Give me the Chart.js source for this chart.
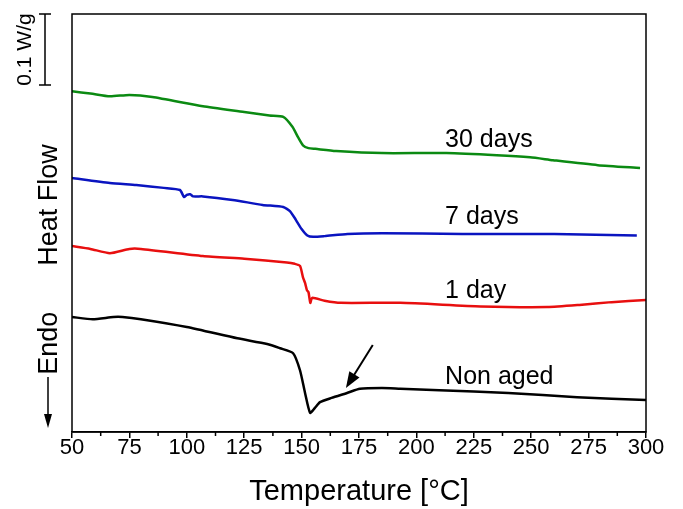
<!DOCTYPE html>
<html>
<head>
<meta charset="utf-8">
<script src="https://cdn.jsdelivr.net/npm/chart.js@4.4.0/dist/chart.umd.min.js"></script>
<style>
  html, body { margin: 0; padding: 0; background: #fff; }
  canvas { display: block; }
</style>
</head>
<body>
<canvas id="dsc" width="683" height="509"></canvas>
<script>
const FONT = '"Liberation Sans", Arial, sans-serif';

// temperature [°C] and heat flow [W/g], curves shifted vertically for clarity
const nonAgedT  = [50, 59, 68, 72, 80, 100, 122, 135, 140.6, 146.3, 149.3, 151.5, 153.7, 155.8, 158, 163, 169.8, 175.4, 185, 193, 210, 240, 270, 300];
const nonAgedHF = [0.162, 0.159, 0.162, 0.162, 0.159, 0.148, 0.132, 0.124, 0.118, 0.111, 0.087, 0.055, 0.027, 0.034, 0.042, 0.048, 0.055, 0.061, 0.062, 0.061, 0.059, 0.055, 0.049, 0.045];

const day1T  = [50, 58, 66.5, 75, 80, 107, 125, 143.6, 147, 149.3, 150.6, 151.5, 152.3, 153, 153.8, 154.6, 160, 167, 193, 228, 257, 271, 285, 300];
const day1HF = [0.262, 0.258, 0.252, 0.258, 0.258, 0.248, 0.244, 0.239, 0.237, 0.234, 0.218, 0.210, 0.200, 0.197, 0.182, 0.189, 0.185, 0.182, 0.182, 0.177, 0.176, 0.179, 0.183, 0.186];

const day7T  = [50, 66.5, 78, 90, 97, 98.8, 100, 101.5, 102.7, 107, 120, 133, 142, 145, 147.5, 150, 152.5, 155, 160, 170, 185, 220, 260, 296];
const day7HF = [0.358, 0.351, 0.348, 0.344, 0.341, 0.331, 0.334, 0.335, 0.332, 0.332, 0.327, 0.320, 0.317, 0.311, 0.299, 0.286, 0.277, 0.275, 0.276, 0.279, 0.280, 0.279, 0.279, 0.277];

const day30T  = [50, 58, 66.5, 75, 85, 107, 125, 136, 142, 146, 148.5, 150.6, 153, 156, 165, 185, 213, 235, 249.5, 259.5, 279, 297.4];
const day30HF = [0.480, 0.477, 0.473, 0.475, 0.472, 0.459, 0.451, 0.446, 0.444, 0.430, 0.415, 0.404, 0.400, 0.399, 0.396, 0.393, 0.393, 0.390, 0.387, 0.383, 0.376, 0.372];

// curve labels (left edge temperature, heat flow at text middle)
const curveNames = ['30 days', '7 days', '1 day', 'Non aged'];
const labelT  = [212.5, 212.5, 212.5, 212.5];
const labelHF = [0.411, 0.303, 0.199, 0.077];

// arrow pointing at the shoulder of the non aged curve
const arrowFrom = [181, 0.1225];
const arrowTo   = [169.3, 0.062];

const xTicks = [50, 75, 100, 125, 150, 175, 200, 225, 250, 275, 300];
const scaleBar = 0.1; // W/g

function pts(T, HF) { return T.map((t, i) => ({ x: t, y: HF[i] })); }

function vText(ctx, text, cx, cy) {
  ctx.save();
  ctx.translate(cx, cy);
  ctx.rotate(-Math.PI / 2);
  ctx.textAlign = 'center';
  ctx.textBaseline = 'middle';
  ctx.fillText(text, 0, 0);
  ctx.restore();
}

const decor = {
  id: 'decor',
  afterDatasetsDraw(chart) {
    const { ctx, chartArea: a, scales: { x, y } } = chart;
    ctx.save();
    ctx.strokeStyle = '#000';
    ctx.fillStyle = '#000';
    ctx.lineWidth = 1.5;
    ctx.strokeRect(a.left, a.top, a.right - a.left, a.bottom - a.top);

    // minor ticks
    for (let v = xTicks[0] + 12.5; v < xTicks[xTicks.length - 1]; v += 25) {
      const px = x.getPixelForValue(v);
      ctx.beginPath(); ctx.moveTo(px, a.bottom); ctx.lineTo(px, a.bottom + 4); ctx.stroke();
    }

    // curve labels
    ctx.font = '25px ' + FONT;
    ctx.textAlign = 'left';
    ctx.textBaseline = 'middle';
    curveNames.forEach((t, i) => ctx.fillText(t, x.getPixelForValue(labelT[i]), y.getPixelForValue(labelHF[i])));

    // arrow
    const x0 = x.getPixelForValue(arrowFrom[0]), y0 = y.getPixelForValue(arrowFrom[1]);
    const x1 = x.getPixelForValue(arrowTo[0]),   y1 = y.getPixelForValue(arrowTo[1]);
    const ang = Math.atan2(y1 - y0, x1 - x0);
    ctx.lineWidth = 2;
    ctx.beginPath(); ctx.moveTo(x0, y0); ctx.lineTo(x1 - 10 * Math.cos(ang), y1 - 10 * Math.sin(ang)); ctx.stroke();
    ctx.beginPath();
    ctx.moveTo(x1, y1);
    ctx.lineTo(x1 - 16 * Math.cos(ang) + 6 * Math.sin(ang), y1 - 16 * Math.sin(ang) - 6 * Math.cos(ang));
    ctx.lineTo(x1 - 16 * Math.cos(ang) - 6 * Math.sin(ang), y1 - 16 * Math.sin(ang) + 6 * Math.cos(ang));
    ctx.closePath(); ctx.fill();

    // scale bar
    const bx = a.left - 27;
    const bTop = y.getPixelForValue(y.max), bBot = y.getPixelForValue(y.max - scaleBar);
    ctx.lineWidth = 1.5;
    ctx.beginPath();
    ctx.moveTo(bx, bTop); ctx.lineTo(bx, bBot);
    ctx.moveTo(bx - 6, bTop); ctx.lineTo(bx + 6, bTop);
    ctx.moveTo(bx - 6, bBot); ctx.lineTo(bx + 6, bBot);
    ctx.stroke();
    ctx.font = '21px ' + FONT;
    vText(ctx, '0.1 W/g', a.left - 47, (bTop + bBot) / 2);

    // y axis captions
    ctx.font = '27px ' + FONT;
    vText(ctx, 'Heat Flow', a.left - 22, y.getPixelForValue(0.32));
    vText(ctx, 'Endo', a.left - 22, y.getPixelForValue(0.125));
    const ex = a.left - 24;
    ctx.lineWidth = 1.5;
    ctx.beginPath(); ctx.moveTo(ex, a.bottom - 55); ctx.lineTo(ex, a.bottom - 14); ctx.stroke();
    ctx.beginPath();
    ctx.moveTo(ex, a.bottom - 4); ctx.lineTo(ex - 4, a.bottom - 18); ctx.lineTo(ex + 4, a.bottom - 18);
    ctx.closePath(); ctx.fill();
    ctx.restore();
  }
};

const line = (data, color) => ({
  data, borderColor: color, borderWidth: 2.5, pointRadius: 0,
  tension: 0.2, fill: false
});

new Chart(document.getElementById('dsc'), {
  type: 'line',
  data: {
    datasets: [
      line(pts(day30T, day30HF), '#0b8a12'),
      line(pts(day7T, day7HF), '#0a14c0'),
      line(pts(day1T, day1HF), '#e80f0f'),
      line(pts(nonAgedT, nonAgedHF), '#000000')
    ]
  },
  options: {
    responsive: false,
    animation: false,
    layout: { padding: { left: 72, right: 37, top: 14, bottom: 0 } },
    plugins: { legend: { display: false }, tooltip: { enabled: false } },
    scales: {
      x: {
        type: 'linear', min: 50, max: 300,
        afterBuildTicks(scale) { scale.ticks = xTicks.map(v => ({ value: v })); },
        afterFit(scale) { scale.height = 77; },
        ticks: { color: '#000', font: { family: FONT, size: 22 }, padding: -3, maxRotation: 0 },
        grid: { drawOnChartArea: false, color: '#000', lineWidth: 1.5, tickLength: 6 },
        border: { color: '#000', width: 1.5 },
        title: { display: true, text: 'Temperature [°C]', color: '#000', font: { family: FONT, size: 29 }, padding: { top: 0, bottom: 0 } }
      },
      y: { type: 'linear', min: 0, max: 0.589, display: false }
    }
  },
  plugins: [decor]
});
</script>
</body>
</html>
